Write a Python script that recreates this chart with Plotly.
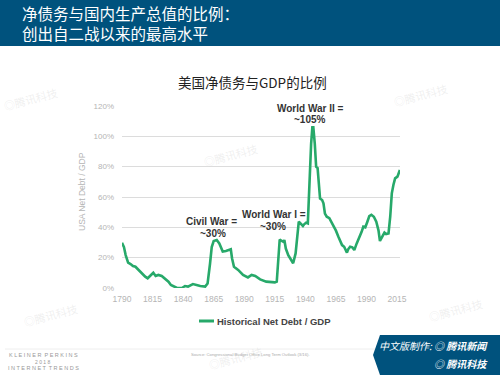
import plotly.graph_objects as go

years = [1790, 1791.6, 1793, 1795, 1797, 1799, 1801, 1803, 1805.5, 1809, 1811, 1814, 1815.6,
         1817.5, 1819.7, 1822.5, 1825, 1828, 1830, 1833, 1835, 1839, 1841.5, 1844, 1848, 1851,
         1854, 1858, 1860, 1862, 1863.4, 1865, 1867.5, 1869.6, 1872.4, 1875, 1878, 1879, 1880,
         1881.6, 1885, 1889, 1893, 1896, 1899, 1903, 1908, 1915, 1916.6, 1918, 1919, 1920.7,
         1922, 1922.8, 1924, 1926, 1928, 1930, 1932, 1933.5, 1934.6, 1936, 1938, 1939, 1940.6,
         1942, 1943, 1944.7, 1945.7, 1946.5, 1947.7, 1948.8, 1950, 1951, 1952, 1953.7, 1954.8,
         1956, 1957.5, 1959.6, 1961.6, 1963, 1965, 1967, 1968.5, 1970, 1971.7, 1974, 1975,
         1976.6, 1978.4, 1980, 1982, 1984, 1986, 1987.4, 1989, 1990.7, 1992.3, 1994, 1996,
         1998, 1999.8, 2001, 2003, 2004.7, 2006, 2008, 2009.4, 2010.7, 2012, 2013.4, 2015.3,
         2016.7, 2017.3]
debt_pct = [29.8, 27, 21.7, 16.7, 15.8, 14.5, 14, 12.3, 10.8, 7.5, 6.4, 8.6, 10,
            7.9, 8.6, 7.9, 6.4, 4.2, 2, 0.5, 0, 0, 1.3, 0.9, 2.6, 2,
            1.3, 0.9, 3, 16, 27, 31, 31.6, 29.4, 24, 24.4, 25, 25.5, 19.6,
            14, 11.9, 8.6, 7, 8.6, 7.9, 5.7, 4.2, 3.7, 4.2, 22.8, 32, 31,
            30.5, 31.6, 26, 21.7, 18.5, 16.3, 22.8, 38, 43.7, 42.6, 40.9, 42, 43,
            42.6, 64.6, 95, 106, 106, 95, 80, 79, 69, 59, 58, 55.8,
            49, 47, 46, 43, 41, 37.8, 33.8, 31, 28.3, 27.2, 23.3, 25.5,
            27.2, 26.8, 25, 29.4, 32.7, 37, 40.4, 40, 43.7, 47.4, 48.3, 47,
            43.7, 38, 31, 34.3, 36.5, 35.6, 36, 47, 62.4, 67.9, 72.3, 73.4,
            76.7, 77.8]
x_ticks = [1790, 1815, 1840, 1865, 1890, 1915, 1940, 1965, 1990, 2015]
y_ticks = [0, 20, 40, 60, 80, 100, 120]
y_tick_labels = ["0%", "20%", "40%", "60%", "80%", "100%", "120%"]

W, H = 500, 375
L, R, T, B = 122, 400, 106, 288


def px(x):
    return (x - L) / (R - L)


def py(y):
    return (B - y) / (B - T)


LAT = "Liberation Sans, Arial, sans-serif"
CJK = "Noto Sans CJK SC, sans-serif"
GREEN = "#27a96a"
BLUE = "#00527d"

fig = go.Figure()
fig.add_trace(go.Scatter(x=years, y=debt_pct, mode="lines",
                         line=dict(color=GREEN, width=2.6),
                         name="Historical Net Debt / GDP", hoverinfo="skip"))

shapes = []
# header banner
shapes.append(dict(type="rect", xref="paper", yref="paper", x0=px(0), x1=px(W),
                   y0=py(46), y1=py(0), fillcolor=BLUE, line=dict(width=0), layer="below"))
# footer separator
shapes.append(dict(type="line", xref="paper", yref="paper", x0=px(5), x1=px(385),
                   y0=py(349), y1=py(349), line=dict(color="#eeeeee", width=1)))
# legend sample line
shapes.append(dict(type="line", xref="paper", yref="paper", x0=px(199), x1=px(214),
                   y0=py(321), y1=py(321), line=dict(color=GREEN, width=3)))
# bottom-right badge
path = "M {},{} L {},{} L {},{} L {},{} L {},{} L {},{} Z".format(
    px(380), py(335), px(500), py(335), px(500), py(375), px(380), py(375),
    px(373), py(355), px(380), py(335))
shapes.append(dict(type="path", xref="paper", yref="paper", path=path,
                   fillcolor=BLUE, line=dict(width=0)))

ann = []


def text(x, y, s, size, color, font=LAT, xanchor="center", **kw):
    ann.append(dict(x=px(x), y=py(y), xref="paper", yref="paper", text=s, showarrow=False,
                    xanchor=xanchor, yanchor="middle",
                    font=dict(family=font, size=size, color=color), **kw))


# header
text(20, 22.5, "净债务与国内生产总值的比例：<br>创出自二战以来的最高水平", 15.5, "white", CJK, "left",
     align="left")
# chart title
text(252, 82, "美国净债务与GDP的比例", 13.5, "#222222", CJK)
# annotations
text(310, 108, "<b>World War II =</b>", 10, "#333333")
text(310, 120, "<b>~105%</b>", 10, "#333333")
text(211, 221, "<b>Civil War =</b>", 10, "#333333")
text(213, 233, "<b>~30%</b>", 10, "#333333")
text(274, 214, "<b>World War I =</b>", 10, "#333333")
text(273, 226, "<b>~30%</b>", 10, "#333333")
# y axis title
text(82, 192, "USA Net Debt / GDP", 8.5, "#b5b5b5", LAT, textangle=-90)
# legend text
text(215, 321, "<b>Historical Net Debt / GDP</b>", 9.5, "#444444", LAT, "left")
# footer
text(43, 355, "K L E I N E R  P E R K I N S", 5.5, "#999999")
text(43, 362, "2 0 1 8", 5, "#999999")
text(43, 368, "I N T E R N E T  T R E N D S", 5.5, "#999999")
text(250, 354, "Source: Congressional Budget Office Long Term Outlook (3/16).", 4.2, "#aaaaaa")
text(490, 345, "<i>中文版制作: ◎ <b>腾讯新闻</b></i>", 10, "white", CJK, "right")
text(490, 363, "<i>◎ <b>腾讯科技</b></i>", 10, "white", CJK, "right")
# faint watermarks
for (wx, wy) in [(30, 99), (420, 95), (230, 155), (50, 315), (455, 310), (235, 358)]:
    text(wx, wy, "◎腾讯科技", 11, "rgba(200,200,200,0.28)", CJK, textangle=-15)

fig.update_layout(
    width=W, height=H, margin=dict(l=L, r=W - R, t=T, b=H - B, pad=0),
    paper_bgcolor="white", plot_bgcolor="white", showlegend=False,
    shapes=shapes, annotations=ann,
    xaxis=dict(range=[1790, 2017.4], tickmode="array", tickvals=x_ticks,
               showgrid=False, zeroline=False, showline=False, ticks="",
               tickfont=dict(family=LAT, size=8.5, color="#b5b5b5"), ticklabelstandoff=4),
    yaxis=dict(range=[0, 120], tickmode="array", tickvals=y_ticks, ticktext=y_tick_labels,
               showgrid=True, gridcolor="#dcdcdc", gridwidth=1, zeroline=False,
               showline=False, ticks="", ticklabelstandoff=7,
               tickfont=dict(family=LAT, size=8, color="#b5b5b5")),
)
fig.write_html("out.html")
